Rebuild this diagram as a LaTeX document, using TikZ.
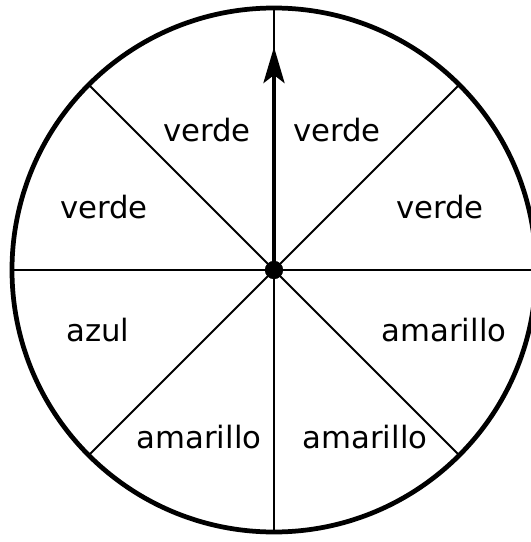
\documentclass[tikz,border=0pt]{standalone}
\usepackage{fontspec}
\setmainfont{DejaVu Sans}
\usetikzlibrary{arrows.meta}

\begin{document}
\begin{tikzpicture}[
      x=0.02cm, y=0.02cm,
      rim/.style={line width=2.7pt},
      spoke/.style={line width=1.2pt},
      pointer/.style={-{Stealth[length=0.72cm, width=0.42cm, inset=0.16cm]}, line width=2.4pt},
      hubdot/.style={circle, fill=black, inner sep=0pt, minimum size=0.36cm},
      lbl/.style={font=\fontsize{17.5}{21}\selectfont}
    ]
    \useasboundingbox (-274,-272) rectangle (257,270);
    \node[hubdot] (hub) at (0,0) {};
    \draw[rim] (hub.center) circle (262);
    % spokes out to the rim
    \foreach \a in {0,45,...,315}
      \coordinate (r\a) at (\a:262);
    \foreach \a in {0,45,...,315}
      \draw[spoke] (hub.center) -- (r\a);
    \coordinate (tip) at (0,223);
    \draw[pointer] (hub.center) -- (tip);
    \node[hubdot] at (hub) {};

    \node[lbl] (v1) at (-67,140) {verde};
    \node[lbl] (v2) at (63,140) {verde};
    \node[lbl] (v3) at (-170,63) {verde};
    \node[lbl] (v4) at (166,63) {verde};
    \node[lbl] (az) at (-176,-60) {azul};
    \node[lbl] (am1) at (170,-60) {amarillo};
    \node[lbl] (am2) at (-75,-167) {amarillo};
    \node[lbl] (am3) at (91,-167) {amarillo};
  \end{tikzpicture}
\end{document}
